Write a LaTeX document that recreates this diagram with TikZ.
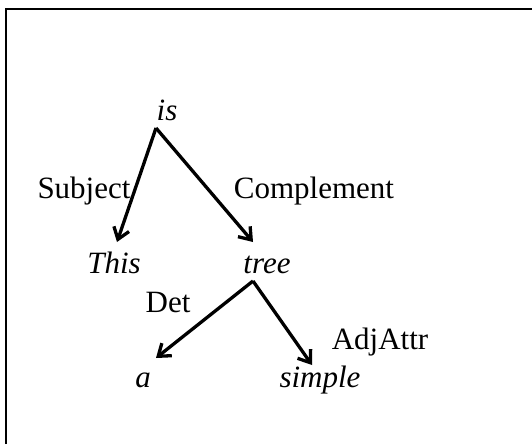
\documentclass[tikz,border=0pt]{standalone}
\usepackage{fontspec}
\setmainfont{Liberation Serif}
\usetikzlibrary{arrows.meta}
\begin{document}
\begin{tikzpicture}[x=1pt,y=-1pt,
  word/.style={font=\fontsize{31}{35}\selectfont\itshape, inner sep=0pt, anchor=base},
  rel/.style={font=\fontsize{31}{35}\selectfont, inner sep=0pt, anchor=base},
  dep/.style={line width=3.3pt, -{Straight Barb[length=11pt,width=16pt,line width=3.3pt]}},
  frame/.style={line width=2pt}]
\useasboundingbox (0,0) rectangle (532,444);
\draw[frame] (6,444) -- (6,9) -- (532,9);
\node[word] (is) at (167,120) {is};
\node[word] (This) at (114,273) {This};
\node[word] (tree) at (267,273) {tree};
\node[word] (a) at (143,387) {a};
\node[word] (simple) at (320,387) {simple};
\node[rel] (subj) at (84,198) {Subject};
\node[rel] (comp) at (314,198) {Complement};
\node[rel] (det) at (168,312) {Det};
\node[rel] (adj) at (380,349) {AdjAttr};
\draw[dep] ([xshift=-11pt,yshift=-8pt]is.base) -- ([xshift=3pt,yshift=31pt]This.base);
\draw[dep] ([xshift=-11pt,yshift=-8pt]is.base) -- ([xshift=-14pt,yshift=31pt]tree.base);
\draw[dep] ([xshift=-14pt,yshift=-8pt]tree.base) -- ([xshift=13pt,yshift=29pt]a.base);
\draw[dep] ([xshift=-14pt,yshift=-8pt]tree.base) -- ([xshift=-8pt,yshift=22pt]simple.base);
\end{tikzpicture}
\end{document}
